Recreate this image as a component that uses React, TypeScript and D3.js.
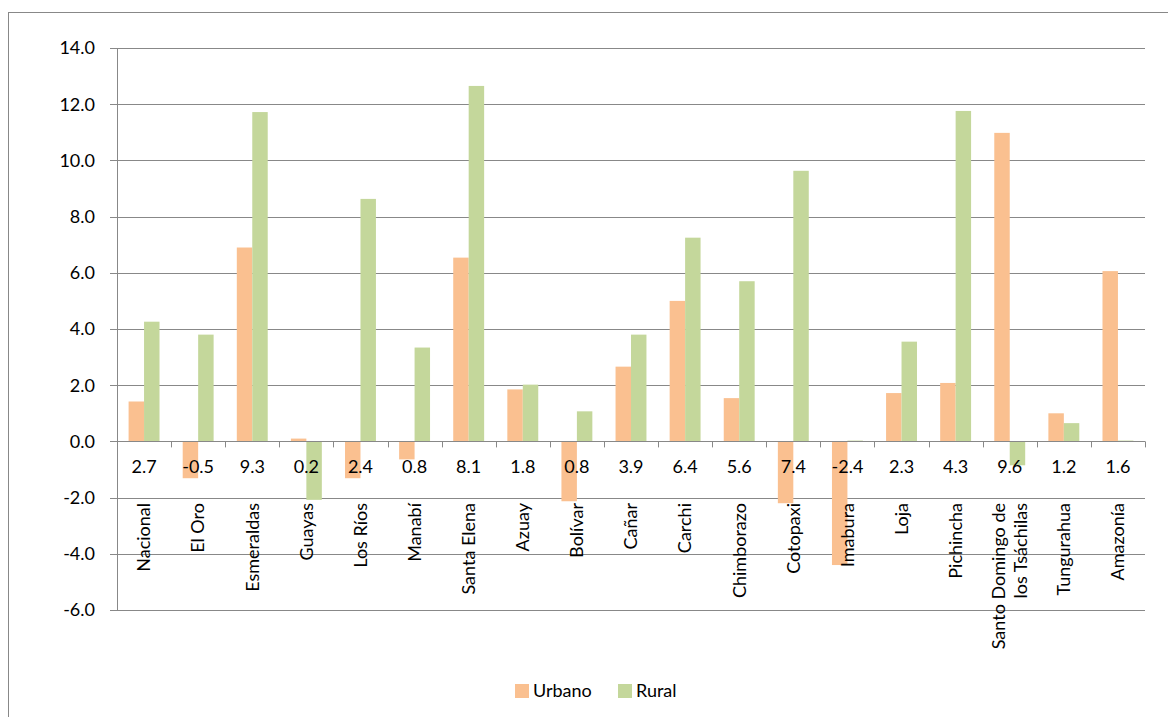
import React from "react";
import * as d3 from "d3";

const categories = [
  "Nacional", "El Oro", "Esmeraldas", "Guayas", "Los Ríos", "Manabí", "Santa Elena",
  "Azuay", "Bolívar", "Cañar", "Carchi", "Chimborazo", "Cotopaxi", "Imabura",
  "Loja", "Pichincha", "Santo Domingo de\nlos Tsáchilas", "Tungurahua", "Amazonía",
];
const urbano = [1.42, -1.31, 6.9, 0.1, -1.31, -0.64, 6.54, 1.85, -2.13, 2.66, 5.0, 1.54, -2.2, -4.4, 1.72, 2.08, 10.98, 1.0, 6.06];
const rural = [4.26, 3.8, 11.72, -2.08, 8.63, 3.34, 12.65, 2.02, 1.07, 3.8, 7.25, 5.7, 9.63, 0.03, 3.55, 11.76, -0.85, 0.65, 0.03];
const valueLabels = ["2.7", "-0.5", "9.3", "0.2", "2.4", "0.8", "8.1", "1.8", "0.8", "3.9", "6.4", "5.6", "7.4", "-2.4", "2.3", "4.3", "9.6", "1.2", "1.6"];
const yTicks = [14, 12, 10, 8, 6, 4, 2, 0, -2, -4, -6];
const seriesNames = ["Urbano", "Rural"];
const colors = ["#FAC090", "#C4D79B"];

const FONT = "Lato, 'Open Sans', sans-serif";
const GRID = "#888888";
const FS = 18;

export default function App() {
  const left = 117, right = 1145, top = 48, bottom = 610;
  const x = d3.scaleBand<string>().domain(categories).range([left, right]).paddingInner(0).paddingOuter(0);
  const y = d3.scaleLinear().domain([-6, 14]).range([bottom, top]);
  const bw = x.bandwidth();
  const inner = d3.scaleBand<string>().domain(seriesNames).range([0, bw]).paddingOuter(0.75).paddingInner(0);
  const y0 = y(0);
  const series = [urbano, rural];

  return (
    <svg width={1168} height={717} style={{ position: "absolute", left: 0, top: 0, background: "#fff" }} fontFamily={FONT}>
      <rect x={8.5} y={12.5} width={1200} height={800} fill="#fff" stroke={GRID} strokeWidth={1} />
      {yTicks.map((t) => (
        <g key={t}>
          <line x1={110} x2={right} y1={Math.round(y(t)) + 0.5} y2={Math.round(y(t)) + 0.5} stroke={GRID} strokeWidth={1} />
          <text x={95} y={y(t)} dy="0.35em" textAnchor="end" fontSize={FS} fill="#000">{t.toFixed(1)}</text>
        </g>
      ))}
      {series.map((vals, si) =>
        vals.map((v, i) => {
          const xx = (x(categories[i]) as number) + (inner(seriesNames[si]) as number);
          const yv = y(v);
          return (
            <rect key={si + "-" + i} x={xx} y={Math.min(yv, y0)} width={inner.bandwidth()} height={Math.abs(yv - y0)} fill={colors[si]} />
          );
        })
      )}
      <line x1={left + 0.5} x2={left + 0.5} y1={top} y2={bottom} stroke={GRID} strokeWidth={1} />
      <line x1={left} x2={right} y1={Math.round(y0) + 0.5} y2={Math.round(y0) + 0.5} stroke={GRID} strokeWidth={1} />
      {categories.map((c, i) => {
        const xx = Math.round((x(c) as number) + bw) + 0.5;
        return <line key={"t" + i} x1={xx} x2={xx} y1={y0} y2={y0 + 6} stroke={GRID} strokeWidth={1} />;
      })}
      {categories.map((c, i) => (
        <text key={"v" + i} x={(x(c) as number) + bw / 2} y={467} dy="0.35em" textAnchor="middle" fontSize={FS} fill="#000">
          {valueLabels[i]}
        </text>
      ))}
      {categories.map((c, i) => {
        const cx = (x(c) as number) + bw / 2;
        const lines = c.split("\n");
        return lines.map((ln, li) => {
          const off = (li - (lines.length - 1) / 2) * 22;
          return (
            <text key={"c" + i + "-" + li} transform={`translate(${cx + off},503) rotate(-90)`} dy="0.35em" textAnchor="end" fontSize={FS} fill="#000">
              {ln}
            </text>
          );
        });
      })}
      <g>
        <rect x={515} y={684} width={14} height={14} fill={colors[0]} />
        <text x={533} y={691} dy="0.35em" fontSize={FS} fill="#000">{seriesNames[0]}</text>
        <rect x={618} y={684} width={14} height={14} fill={colors[1]} />
        <text x={636} y={691} dy="0.35em" fontSize={FS} fill="#000">{seriesNames[1]}</text>
      </g>
    </svg>
  );
}
